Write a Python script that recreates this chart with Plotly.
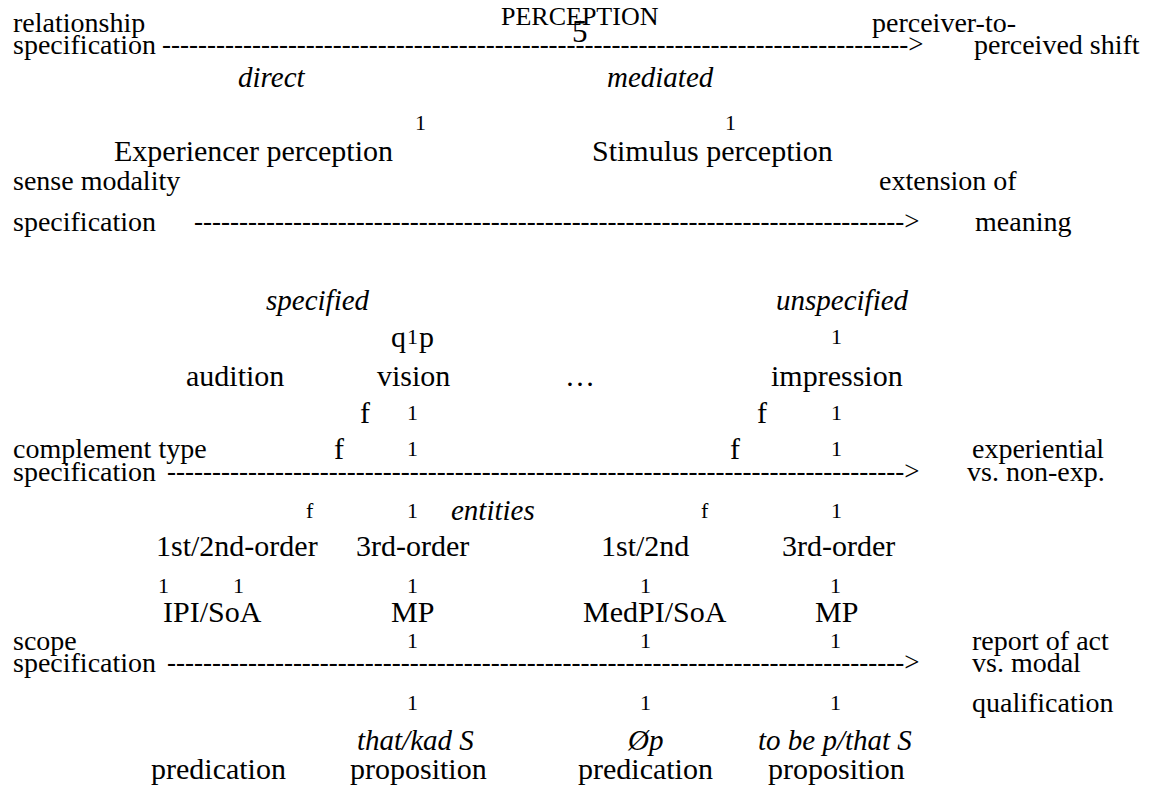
import plotly.graph_objects as go

# ---- text content (values) ----
labels = [
    "PERCEPTION", "5",
    "relationship", "specification", "perceiver-to-", "perceived shift",
    "direct", "mediated", "1", "1",
    "Experiencer perception", "Stimulus perception",
    "sense modality", "extension of", "specification", "meaning",
    "specified", "unspecified",
    "q", "1", "p", "1",
    "audition", "vision", "\u2026", "impression",
    "f", "1", "f", "1",
    "complement type", "f", "1", "f", "1", "experiential",
    "specification", "vs. non-exp.",
    "f", "1", "entities", "f", "1",
    "1st/2nd-order", "3rd-order", "1st/2nd", "3rd-order",
    "1", "1", "1", "1", "1",
    "IPI/SoA", "MP", "MedPI/SoA", "MP",
    "scope", "1", "1", "1", "report of act",
    "specification", "vs. modal",
    "1", "1", "1", "qualification",
    "that/kad S", "\u00d8p", "to be p/that S",
    "predication", "proposition", "predication", "proposition",
]

# ---- layout: positions (pixel coordinates of the page) ----
xs = [
    580, 580,
    11, 11, 870, 972,
    272, 660, 420, 730,
    253, 712,
    11, 877, 11, 973,
    318, 842,
    398, 412, 426, 836,
    235, 413, 580, 837,
    365, 412, 762, 836,
    11, 339, 412, 735, 836, 970,
    11, 965,
    310, 412, 493, 705, 836,
    237, 412, 645, 838,
    163, 238, 412, 645, 835,
    212, 412, 655, 836,
    11, 412, 645, 835, 970,
    11, 970,
    412, 645, 835, 970,
    415, 645, 835,
    218, 418, 645, 836,
]
ys = [
    16, 31,
    22, 44, 22, 44,
    77, 77, 122, 122,
    150, 150,
    180, 180, 221, 221,
    300, 300,
    336, 336, 336, 336,
    375, 375, 375, 375,
    412, 412, 412, 412,
    448, 448, 448, 448, 448, 448,
    471, 471,
    510, 510, 510, 510, 510,
    545, 545, 545, 545,
    585, 585, 585, 585, 585,
    611, 611, 611, 611,
    640, 640, 640, 640, 640,
    662, 662,
    702, 702, 702, 702,
    740, 740, 740,
    768, 768, 768, 768,
]
# style kinds: n node text, l side label, s small, i italic, b big, t title
kinds = [
    "t", "b",
    "l", "l", "l", "l",
    "i", "i", "s", "s",
    "n", "n",
    "l", "l", "l", "l",
    "i", "i",
    "n", "s", "n", "s",
    "n", "n", "n", "n",
    "n", "s", "n", "s",
    "l", "n", "s", "n", "s", "l",
    "l", "l",
    "s", "s", "i", "s", "s",
    "n", "n", "n", "n",
    "s", "s", "s", "s", "s",
    "n", "n", "n", "n",
    "l", "s", "s", "s", "l",
    "l", "l",
    "s", "s", "s", "l",
    "i", "i", "i",
    "n", "n", "n", "n",
]

# dashed arrows: right end x, y, number of dashes
arrow_y = [44, 221, 471, 662]
arrow_end = [926, 922, 922, 922]
arrow_n = [83, 79, 82, 82]

FONT = "Liberation Serif"
sizes = {"n": 30, "l": 28, "s": 22, "i": 29, "b": 31, "t": 26}

fig = go.Figure()
annotations = []
for t, x, y, k in zip(labels, xs, ys, kinds):
    txt = f"<i>{t}</i>" if k == "i" else t
    annotations.append(dict(
        x=x, y=y, xref="x", yref="y", text=txt, showarrow=False,
        xanchor="left" if k == "l" else "center", yanchor="middle",
        font=dict(family=FONT, size=sizes[k], color="black"),
    ))
for y, xe, n in zip(arrow_y, arrow_end, arrow_n):
    annotations.append(dict(
        x=xe, y=y, xref="x", yref="y", text="-" * n + "&gt;", showarrow=False,
        xanchor="right", yanchor="middle",
        font=dict(family=FONT, size=27, color="black"),
    ))

# the page body adds an 8px offset; shift the axes so values map to page pixels
fig.update_layout(
    width=1160, height=792,
    margin=dict(l=0, r=0, t=0, b=0),
    font=dict(family=FONT, color="black"),
    paper_bgcolor="white", plot_bgcolor="white",
    xaxis=dict(range=[8, 1168], visible=False),
    yaxis=dict(range=[800, 8], visible=False),
    annotations=annotations,
)
fig.write_html("out.html")
